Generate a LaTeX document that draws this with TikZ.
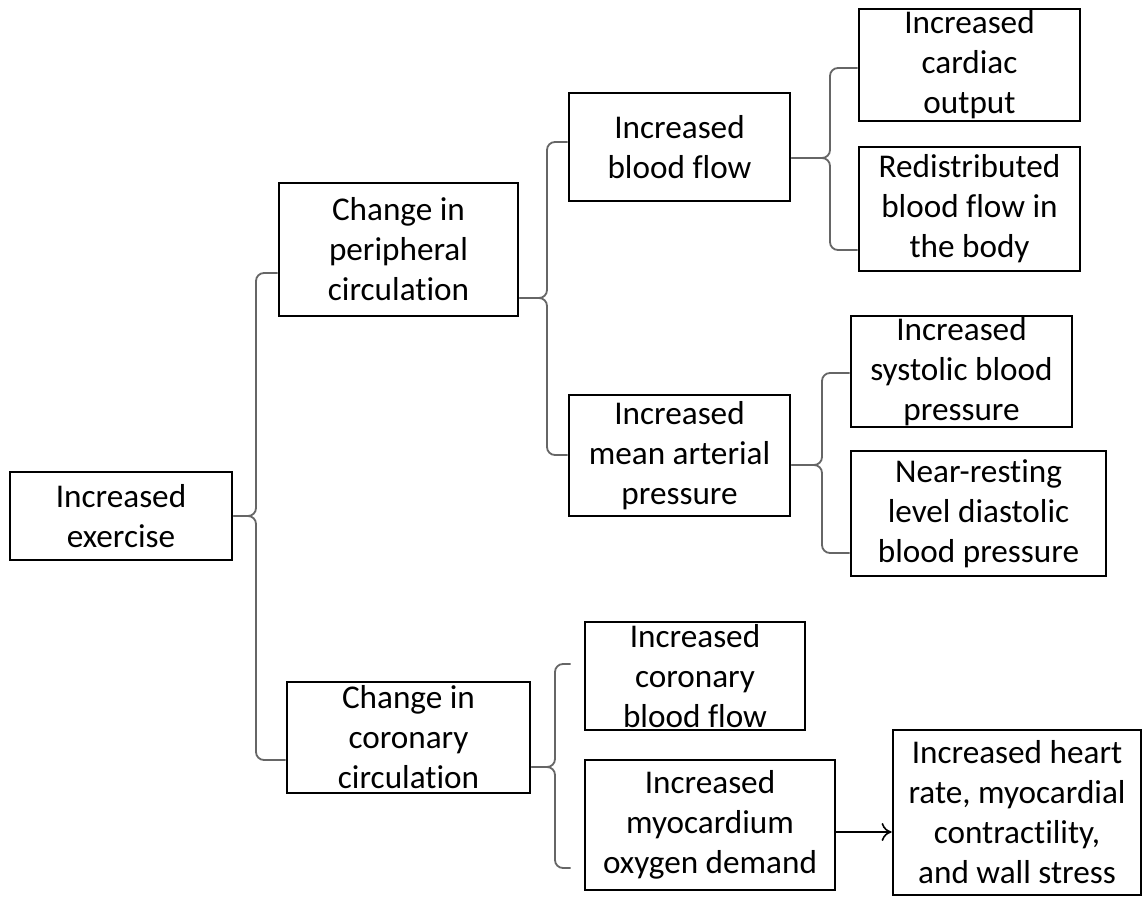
\documentclass[tikz,border=0pt]{standalone}
\usepackage{fontspec}
\setmainfont{Carlito}[Ligatures=NoCommon]
\usetikzlibrary{arrows.meta}

\tikzset{
  box/.style={draw, line width=1.4pt, align=center, inner sep=0pt,
    font=\fontsize{16.6}{20}\selectfont},
  brace/.style={draw=black!60, line width=0.9pt, rounded corners=4pt},
}

\begin{document}
\begin{tikzpicture}[x=0.5pt, y=-0.5pt]
  \useasboundingbox (0,0) rectangle (1146,900);
  % boxes
  \node[box, minimum width=111pt, minimum height=44pt] (ie) at (121,516) {Increased\\exercise};
  \node[box, minimum width=119.5pt, minimum height=66.5pt] (cpc) at (398.5,249.5) {Change in\\peripheral\\circulation};
  \node[box, minimum width=121.5pt, minimum height=55.5pt] (ccc) at (408.5,737.5) {Change in\\coronary\\circulation};
  \node[box, minimum width=110.5pt, minimum height=54pt] (ibf) at (679.5,147) {Increased\\blood flow};
  \node[box, minimum width=110.5pt, minimum height=60.5pt] (map) at (679.5,455.5) {Increased\\mean arterial\\pressure};
  \node[box, minimum width=110.5pt, minimum height=56pt] (co) at (969.5,65) {Increased\\cardiac\\output};
  \node[box, minimum width=110.5pt, minimum height=62pt] (rbf) at (969.5,209) {Redistributed\\blood flow in\\the body};
  \node[box, minimum width=110.5pt, minimum height=55.5pt] (sbp) at (961.5,371.5) {Increased\\systolic blood\\pressure};
  \node[box, minimum width=127.5pt, minimum height=62.5pt] (dbp) at (978.5,513.5) {Near-resting\\level diastolic\\blood pressure};
  \node[box, minimum width=110pt, minimum height=54pt] (cbf) at (695,676) {Increased\\coronary\\blood flow};
  \node[box, minimum width=125pt, minimum height=65pt] (mod) at (710,825) {Increased\\myocardium\\oxygen demand};
  \node[box, minimum width=124pt, minimum height=82.5pt] (hr) at (1017,812.5) {Increased heart\\rate, myocardial\\contractility,\\and wall stress};
  % braces
  \draw[brace] (ie.east) -- (256,516) |- (cpc.west |- 0,273);
  \draw[brace] (ie.east) -- (256,516) |- (ccc.west |- 0,760);
  \draw[brace] (cpc.east |- 0,298) -- (547,298) |- (ibf.west |- 0,142);
  \draw[brace] (cpc.east |- 0,298) -- (547,298) |- (map.west |- 0,455);
  \draw[brace] (ibf.east |- 0,158) -- (830,158) |- (co.west |- 0,68);
  \draw[brace] (ibf.east |- 0,158) -- (830,158) |- (rbf.west |- 0,250);
  \draw[brace] (map.east |- 0,465) -- (822,465) |- (sbp.west |- 0,373);
  \draw[brace] (map.east |- 0,465) -- (822,465) |- (dbp.west |- 0,553);
  \draw[brace] (ccc.east |- 0,767) -- (555,767) |- ([xshift=-6.5pt]cbf.west |- 0,664);
  \draw[brace] (ccc.east |- 0,767) -- (555,767) |- ([xshift=-6.5pt]cbf.west |- 0,868);
  % arrow
  \draw[-{To[length=5pt,width=9pt]}, line width=0.8pt] ([yshift=-3.5pt]mod.east) -- ([yshift=-3.5pt]mod.east -| hr.west);
\end{tikzpicture}
\end{document}
